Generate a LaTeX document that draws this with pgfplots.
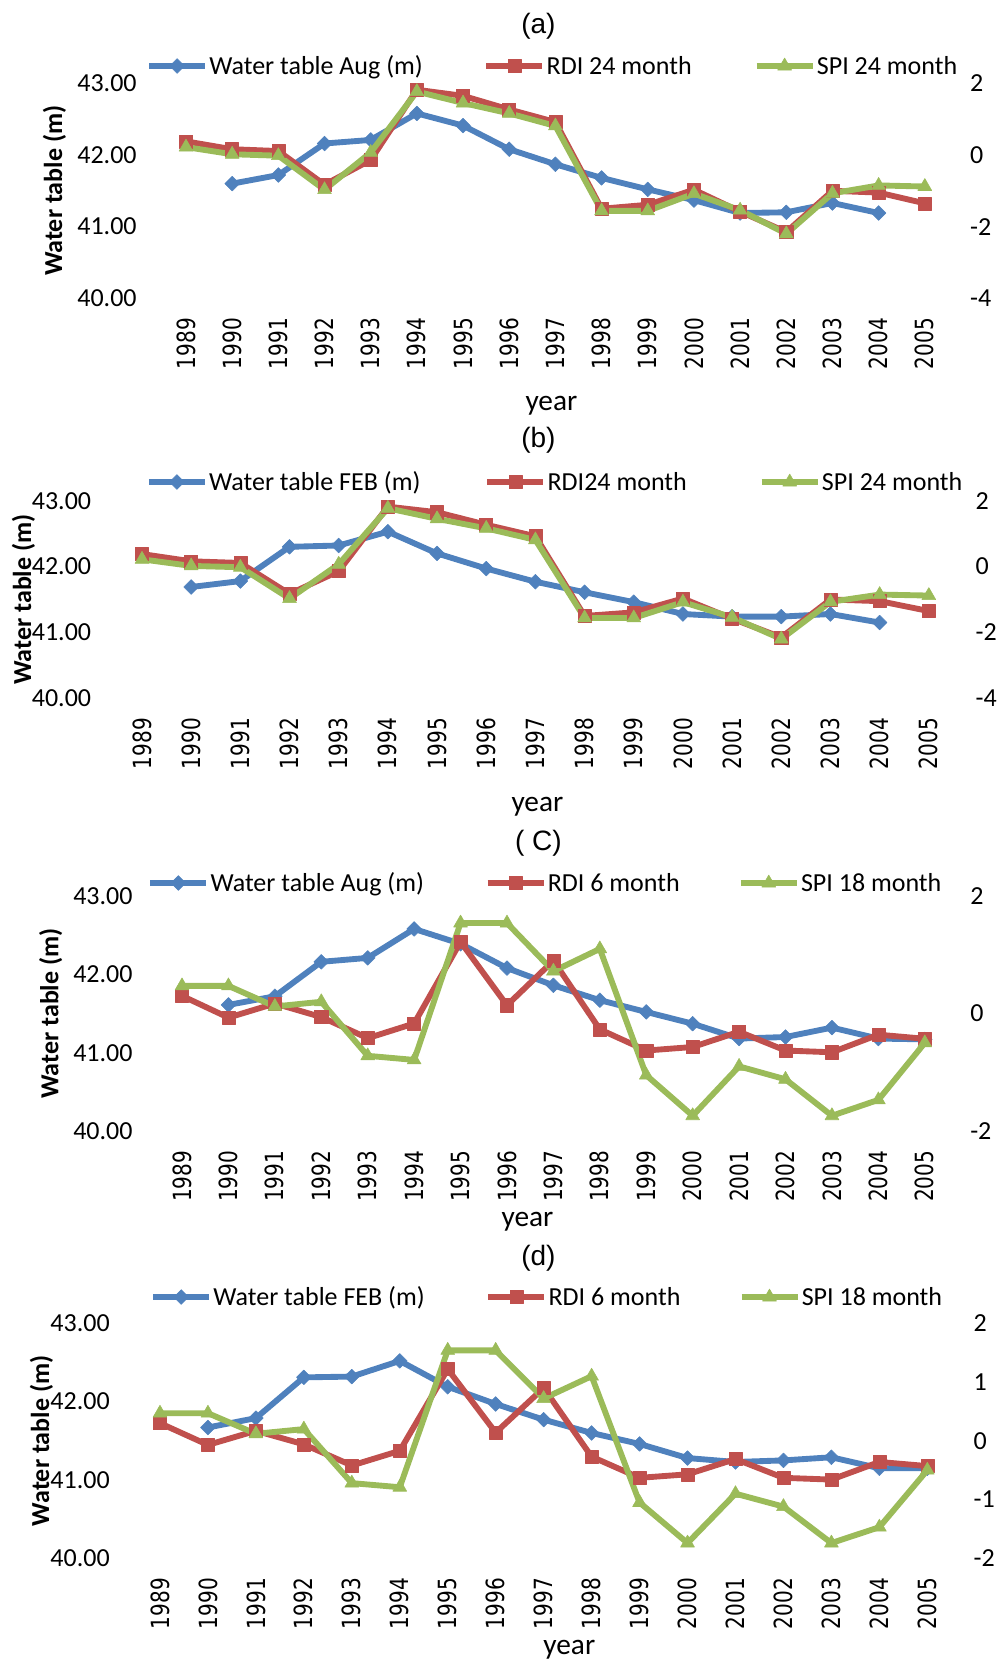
\documentclass[border=0pt]{standalone}
\usepackage{fontspec}
\usepackage{pgfplots}
\usepackage{pgfplotstable}
\pgfplotsset{compat=1.18}
\setmainfont{Carlito}
\newfontfamily\yearfamily[FakeStretch=0.8]{DejaVu Sans}
\newfontfamily\titlefamily{Liberation Sans}
\newcommand\tickfnt{\fontsize{19.5pt}{23pt}\selectfont}
\newcommand\yearfnt{\yearfamily\fontsize{18.8pt}{22pt}\selectfont}
\newcommand\titlefnt{\titlefamily\fontsize{21pt}{24pt}\selectfont}
\newcommand\xlabfnt{\fontsize{22pt}{25pt}\selectfont}
\newcommand\ylabfnt{\bfseries\fontsize{19.5pt}{23pt}\selectfont}
\definecolor{cblue}{RGB}{79,129,189}
\definecolor{cred}{RGB}{192,80,77}
\definecolor{cgreen}{RGB}{155,187,89}

\pgfplotstableread{
x rdi24 spi24 rdi6 spi18
0 0.38 0.22 0.30 0.47
1 0.16 0.02 -0.07 0.47
2 0.11 -0.02 0.17 0.12
3 -0.83 -0.97 -0.06 0.20
4 -0.14 0.07 -0.42 -0.72
5 1.82 1.77 -0.17 -0.79
6 1.65 1.45 1.22 1.54
7 1.27 1.16 0.14 1.54
8 0.92 0.81 0.90 0.72
9 -1.50 -1.56 -0.27 1.10
10 -1.39 -1.56 -0.63 -1.05
11 -0.97 -1.08 -0.57 -1.74
12 -1.58 -1.54 -0.31 -0.90
13 -2.15 -2.20 -0.63 -1.12
14 -1.00 -1.07 -0.66 -1.74
15 -1.05 -0.85 -0.36 -1.47
16 -1.35 -0.88 -0.43 -0.50
}\idx

\pgfplotsset{
  base/.style={scale only axis, anchor=south west, xmin=-0.5, xmax=16.5,
    clip=false, axis line style={draw=none}, tick style={draw=none},
    major tick length=0pt},
  wt/.style={color=cblue, line width=4.4pt, line join=round, mark=square*,
    mark size=3.9pt, mark options={rotate=45, line width=0.4pt}},
  rdi/.style={color=cred, line width=4.4pt, line join=round, mark=square*,
    mark size=4.9pt, mark options={line width=0.4pt}},
  spi/.style={color=cgreen, line width=4.4pt, line join=round, mark=triangle*,
    mark size=6pt, mark options={line width=0.4pt}},
  leftax/.style={base, ymin=40, ymax=43, ytick={40,41,42,43},
    yticklabels={40.00,41.00,42.00,43.00},
    yticklabel style={font=\tickfnt, anchor=east, inner sep=0pt},
    yticklabel shift=19.5pt,
    xtick={0,...,16},
    xticklabels={1989,1990,1991,1992,1993,1994,1995,1996,1997,1998,1999,2000,2001,2002,2003,2004,2005},
    xticklabel style={font=\yearfnt, rotate=90, anchor=east, inner sep=0pt},
    xticklabel shift=14.6pt,
    ylabel={Water table (m)}, ylabel style={font=\ylabfnt, anchor=center},
    title style={font=\titlefnt, anchor=center},
    xlabel={year}, xlabel style={font=\xlabfnt, anchor=center}},
  rightax/.style={base, yticklabel pos=right,
    yticklabel style={font=\tickfnt, anchor=west, inner sep=0pt},
    yticklabel shift=16.5pt, xtick=\empty,
    legend columns=3, legend cell align=left,
    legend image code/.code={\draw[mark repeat=2,mark phase=2,##1] plot coordinates {(0pt,0pt) (21pt,0pt) (42pt,0pt)};},
    legend style={draw=none, fill=none, inner sep=0pt, outer sep=0pt,
      anchor=west, font=\tickfnt, nodes={inner xsep=1pt, inner ysep=0pt}}},
}

\begin{document}
\begin{tikzpicture}
\useasboundingbox (0pt,0pt) rectangle (748.5pt,-1244.25pt);

% ---------------- (a)
\begin{axis}[leftax, at={(122.175pt,-223.725pt)}, width=588.75pt, height=161.25pt,
  title={(a)}, title style={at={(axis description cs:0.4784,1.2293)}},
  ylabel style={at={(axis description cs:-0.138,0.5)}},
  xlabel style={at={(axis description cs:0.4949,-0.5009)}}]
\addplot[wt] coordinates {(1,41.60)(2,41.72)(3,42.16)(4,42.21)(5,42.58)(6,42.41)(7,42.08)(8,41.87)(9,41.68)(10,41.52)(11,41.37)(12,41.19)(13,41.20)(14,41.33)(15,41.19)};
\end{axis}
\begin{axis}[rightax, at={(122.175pt,-223.725pt)}, width=588.75pt, height=161.25pt,
  ymin=-4, ymax=2, ytick={-4,-2,0,2}, yticklabels={-4,-2,0,2},
  legend style={at={(axis description cs:-0.0213,1.0805)},
    /tikz/column 2/.append style={column sep=44.5pt},
    /tikz/column 4/.append style={column sep=45.5pt}}]
\addlegendimage{wt}\addlegendentry{Water table Aug (m)}
\addplot[rdi] table[x=x,y=rdi24] {\idx};\addlegendentry{RDI 24 month}
\addplot[spi] table[x=x,y=spi24] {\idx};\addlegendentry{SPI 24 month}
\end{axis}

% ---------------- (b)
\begin{axis}[leftax, at={(88.05pt,-523.725pt)}, width=627pt, height=148.2pt,
  title={(b)}, title style={at={(axis description cs:0.5036,1.2667)}},
  ylabel style={at={(axis description cs:-0.1123,0.5)}},
  xlabel style={at={(axis description cs:0.5024,-0.5501)}}]
\addplot[wt] coordinates {(1,41.69)(2,41.78)(3,42.30)(4,42.32)(5,42.53)(6,42.20)(7,41.97)(8,41.77)(9,41.61)(10,41.46)(11,41.28)(12,41.24)(13,41.24)(14,41.28)(15,41.15)};
\end{axis}
\begin{axis}[rightax, at={(88.05pt,-523.725pt)}, width=627pt, height=148.2pt,
  ymin=-4, ymax=2, ytick={-4,-2,0,2}, yticklabels={-4,-2,0,2},
  legend style={at={(axis description cs:0.0342,1.0946)},
    /tikz/column 2/.append style={column sep=47pt},
    /tikz/column 4/.append style={column sep=53pt}}]
\addlegendimage{wt}\addlegendentry{Water table FEB (m)}
\addplot[rdi] table[x=x,y=rdi24] {\idx};\addlegendentry{RDI24 month}
\addplot[spi] table[x=x,y=spi24] {\idx};\addlegendentry{SPI 24 month}
\end{axis}

% ---------------- (c)
\begin{axis}[leftax, at={(119.1pt,-848.25pt)}, width=591.9pt, height=176.25pt,
  title={( C)}, title style={at={(axis description cs:0.4811,1.1915)}},
  ylabel style={at={(axis description cs:-0.1371,0.5)}},
  xlabel style={at={(axis description cs:0.4672,-0.3872)}}]
\addplot[wt] coordinates {(1,41.61)(2,41.72)(3,42.16)(4,42.21)(5,42.58)(6,42.39)(7,42.08)(8,41.86)(9,41.67)(10,41.52)(11,41.37)(12,41.18)(13,41.20)(14,41.32)(15,41.18)(16,41.17)};
\end{axis}
\begin{axis}[rightax, at={(119.1pt,-848.25pt)}, width=591.9pt, height=176.25pt,
  ymin=-2, ymax=2, ytick={-2,0,2}, yticklabels={-2,0,2},
  legend style={at={(axis description cs:-0.0145,1.0553)},
    /tikz/column 2/.append style={column sep=44.5pt},
    /tikz/column 4/.append style={column sep=42.6pt}}]
\addlegendimage{wt}\addlegendentry{Water table Aug (m)}
\addplot[rdi] table[x=x,y=rdi6] {\idx};\addlegendentry{RDI 6 month}
\addplot[spi] table[x=x,y=spi18] {\idx};\addlegendentry{SPI 18 month}
\end{axis}

% ---------------- (d)
\begin{axis}[leftax, at={(102pt,-1168.725pt)}, width=611.475pt, height=176.25pt,
  title={(d)}, title style={at={(axis description cs:0.4936,1.2438)}},
  ylabel style={at={(axis description cs:-0.1159,0.5)}},
  xlabel style={at={(axis description cs:0.5315,-0.3902)}}]
\addplot[wt] coordinates {(1,41.67)(2,41.79)(3,42.31)(4,42.32)(5,42.52)(6,42.19)(7,41.97)(8,41.77)(9,41.60)(10,41.46)(11,41.28)(12,41.23)(13,41.25)(14,41.29)(15,41.15)(16,41.15)};
\end{axis}
\begin{axis}[rightax, at={(102pt,-1168.725pt)}, width=611.475pt, height=176.25pt,
  ymin=-2, ymax=2, ytick={-2,-1,0,1,2}, yticklabels={-2,-1,0,1,2},
  legend style={at={(axis description cs:0.0175,1.1119)},
    /tikz/column 2/.append style={column sep=44.5pt},
    /tikz/column 4/.append style={column sep=42.6pt}}]
\addlegendimage{wt}\addlegendentry{Water table FEB (m)}
\addplot[rdi] table[x=x,y=rdi6] {\idx};\addlegendentry{RDI 6 month}
\addplot[spi] table[x=x,y=spi18] {\idx};\addlegendentry{SPI 18 month}
\end{axis}
\end{tikzpicture}
\end{document}
